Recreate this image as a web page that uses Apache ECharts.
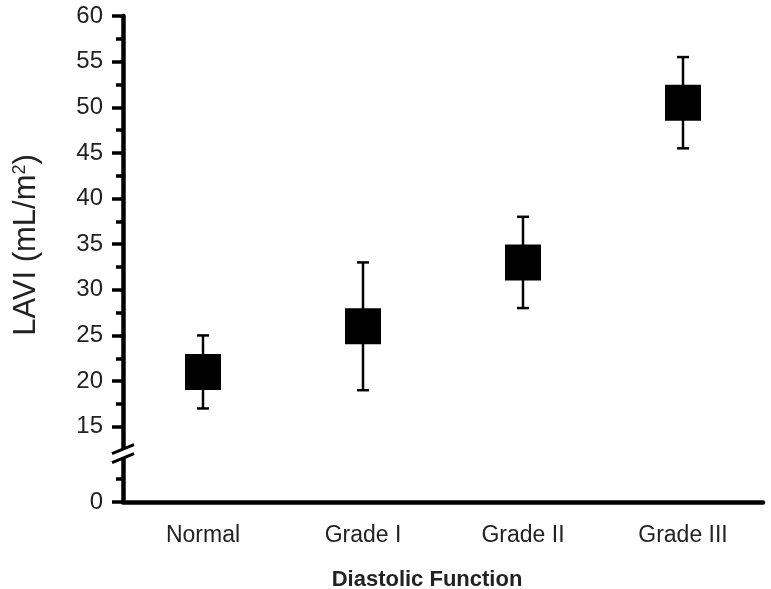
<!DOCTYPE html>
<html><head><meta charset="utf-8">
<script src="https://cdn.jsdelivr.net/npm/echarts@6/dist/echarts.min.js"></script>
<style>html,body{margin:0;padding:0;background:#fff}#c{width:771px;height:589px}</style>
</head><body><div id="c"></div>
<script>
// ---- data ----
const categories = ['Normal', 'Grade I', 'Grade II', 'Grade III'];
const means = [21, 26, 33, 50.5];
const lows = [17, 19, 28, 45.5];
const highs = [25, 33, 38, 55.5];
const yTickValues = [0, 15, 20, 25, 30, 35, 40, 45, 50, 55, 60];
const yTickLabels = ['0', '15', '20', '25', '30', '35', '40', '45', '50', '55', '60'];
const yMinorValues = [2.5, 17.5, 22.5, 27.5, 32.5, 37.5, 42.5, 47.5, 52.5, 57.5];
const breakValue = 5.3;      // position of the axis break on the lower segment
const LOWER_OFFSET = 6.75;   // lower segment (0..~5) is shifted up to sit just below 15
const Y_MAX = 60;

function toAxis(v) { return v < 10 ? v + LOWER_OFFSET : v; }
const majorAxisVals = yTickValues.map(toAxis);
const minorAxisVals = yMinorValues.map(toAxis);
const Y_MIN = toAxis(0);

const font = 'Liberation Sans, Arial, sans-serif';
const chart = echarts.init(document.getElementById('c'), null, {renderer: 'canvas'});

chart.setOption({
  animation: false,
  backgroundColor: '#fff',
  grid: {left: 123, right: 8, top: 16, bottom: 87, containLabel: false, outerBoundsMode: 'none'},
  xAxis: {
    type: 'category',
    data: categories,
    boundaryGap: true,
    name: 'Diastolic Function',
    nameLocation: 'middle',
    nameGap: 67,
    nameTextStyle: {fontFamily: font, fontWeight: 'bold', fontSize: 22, color: '#222', padding: [0, 32, 0, 0]},
    axisLine: {lineStyle: {color: '#000', width: 4.5}},
    axisTick: {alignWithLabel: true, length: 10, lineStyle: {color: '#000', width: 3.5}},
    axisLabel: {fontFamily: font, fontSize: 23, color: '#222', margin: 22},
    splitLine: {show: false}
  },
  yAxis: [{
    type: 'value',
    min: Y_MIN, max: Y_MAX,
    position: 'left',
    name: 'LAVI (mL/m{sup|2})',
    nameLocation: 'middle',
    nameRotate: 90,
    nameGap: 81,
    nameTextStyle: {
      fontFamily: font, fontSize: 31, color: '#222', padding: [0, 0, 0, 28],
      rich: {sup: {fontFamily: font, fontSize: 18, color: '#222', verticalAlign: 'top', padding: [0, 0, 13, 0]}}
    },
    axisLine: {show: true, lineStyle: {color: '#000', width: 4.5}},
    axisTick: {show: true, customValues: majorAxisVals, length: 11, lineStyle: {color: '#000', width: 3.5}},
    axisLabel: {
      customValues: majorAxisVals, fontFamily: font, fontSize: 24, color: '#222', margin: 20,
      formatter: function (val) {
        let best = 0;
        majorAxisVals.forEach((a, i) => { if (Math.abs(a - val) < Math.abs(majorAxisVals[best] - val)) best = i; });
        return yTickLabels[best];
      }
    },
    splitLine: {show: false}
  }, {
    type: 'value',
    min: Y_MIN, max: Y_MAX,
    position: 'left',
    offset: 0,
    axisLine: {show: false},
    axisTick: {show: true, customValues: minorAxisVals, length: 7, lineStyle: {color: '#000', width: 3.5}},
    axisLabel: {show: false},
    splitLine: {show: false}
  }],
  series: [{
    type: 'custom',
    name: 'error',
    yAxisIndex: 0,
    data: categories.map((c, i) => [i, lows[i], highs[i]]),
    encode: {x: 0, y: [1, 2]},
    renderItem: function (params, api) {
      const lo = api.coord([api.value(0), api.value(1)]);
      const hi = api.coord([api.value(0), api.value(2)]);
      const w = 6;
      const st = {stroke: '#000', lineWidth: 2.5};
      return {type: 'group', children: [
        {type: 'line', shape: {x1: lo[0], y1: lo[1], x2: hi[0], y2: hi[1]}, style: st},
        {type: 'line', shape: {x1: lo[0] - w, y1: lo[1], x2: lo[0] + w, y2: lo[1]}, style: st},
        {type: 'line', shape: {x1: hi[0] - w, y1: hi[1], x2: hi[0] + w, y2: hi[1]}, style: st}
      ]};
    },
    z: 2
  }, {
    type: 'scatter',
    name: 'mean',
    yAxisIndex: 0,
    data: means.map((m, i) => [i, m]),
    symbol: 'rect',
    symbolSize: 36,
    itemStyle: {color: '#000', opacity: 1},
    emphasis: {disabled: true},
    z: 3
  }, {
    type: 'custom',
    name: 'break',
    yAxisIndex: 0,
    clip: false,
    silent: true,
    data: [[0, toAxis(breakValue)]],
    renderItem: function (params, api) {
      const cx = params.coordSys.x;
      const cy = api.coord([0, api.value(1)])[1];
      const k = 9 / 22;
      const up = x => cy - k * (x - (cx - 11));
      const lw = x => up(x) + 9;
      const st = {stroke: '#000', lineWidth: 3};
      return {type: 'group', children: [
        {type: 'polygon', shape: {points: [[cx - 5, up(cx - 5)], [cx + 5, up(cx + 5)], [cx + 5, lw(cx + 5)], [cx - 5, lw(cx - 5)]]}, style: {fill: '#fff'}},
        {type: 'line', shape: {x1: cx - 11, y1: up(cx - 11), x2: cx + 11, y2: up(cx + 11)}, style: st},
        {type: 'line', shape: {x1: cx - 11, y1: lw(cx - 11), x2: cx + 11, y2: lw(cx + 11)}, style: st}
      ]};
    },
    z: 5
  }]
});
</script>
</body></html>
